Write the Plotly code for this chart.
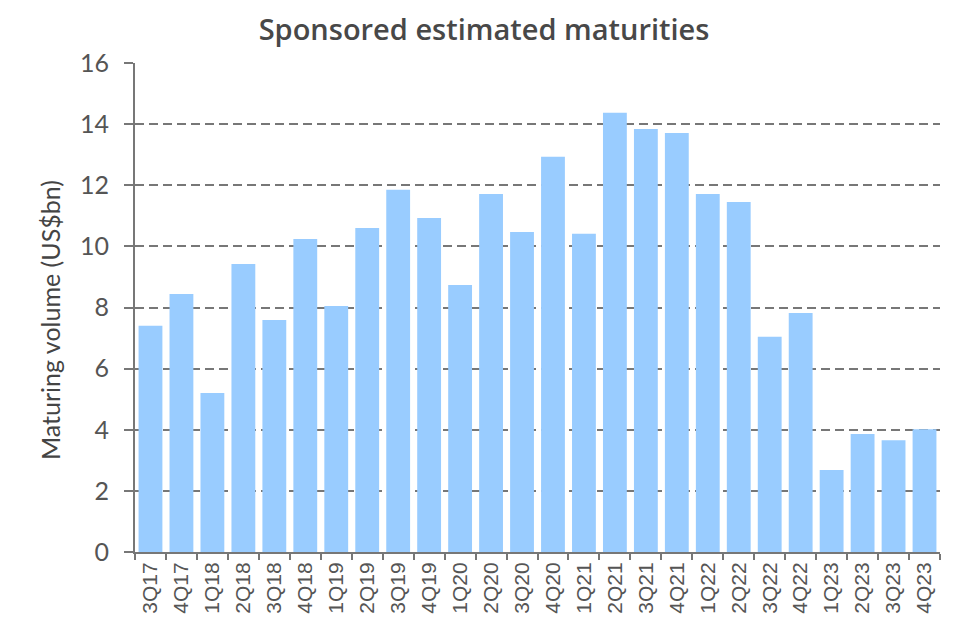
import plotly.graph_objects as go

quarters = ['3Q17', '4Q17', '1Q18', '2Q18', '3Q18', '4Q18', '1Q19', '2Q19', '3Q19',
            '4Q19', '1Q20', '2Q20', '3Q20', '4Q20', '1Q21', '2Q21', '3Q21', '4Q21',
            '1Q22', '2Q22', '3Q22', '4Q22', '1Q23', '2Q23', '3Q23', '4Q23']
maturing_volume = [7.40, 8.44, 5.20, 9.42, 7.59, 10.24, 8.05, 10.60, 11.85,
                   10.93, 8.74, 11.71, 10.47, 12.93, 10.41, 14.37, 13.84, 13.71,
                   11.71, 11.45, 7.04, 7.82, 2.68, 3.86, 3.66, 4.02]
y_ticks = [0, 2, 4, 6, 8, 10, 12, 14, 16]

grey = '#777777'

fig = go.Figure(data=[go.Bar(x=quarters, y=maturing_volume,
                             marker=dict(color='#99CCFF', line=dict(width=0)))])

# page body adds 8px offset, so margins are shifted to compensate
fig.update_layout(
    width=965, height=623,
    margin=dict(l=127, r=33, t=55, b=79, autoexpand=False),
    paper_bgcolor='white', plot_bgcolor='white',
    bargap=0.23,
    showlegend=False,
    font=dict(family='Lato', color='#555555'),
    title=dict(text='Sponsored estimated maturities', x=0.4933, xanchor='center',
               y=0.965, yanchor='middle',
               font=dict(family='Open Sans', size=29, weight=600, color='#484848')),
)

# y axis title as annotation so it sits where the reference has it
fig.add_annotation(
    text='Maturing volume (US$bn)', textangle=-90,
    xref='paper', yref='paper', x=-0.1056, y=0.4744,
    xanchor='center', yanchor='middle', showarrow=False,
    font=dict(family='Lato', size=25, color='#444444'),
)

fig.update_xaxes(
    type='category', tickangle=-90, automargin=False,
    tickfont=dict(family='Liberation Sans', size=21, color='#555555'),
    showline=True, linecolor=grey, linewidth=2,
    ticks='outside', tickson='boundaries', ticklen=6, tickcolor=grey, tickwidth=2,
    showgrid=False,
)

fig.update_yaxes(
    range=[0, 16], tickvals=y_ticks, automargin=False,
    tickfont=dict(family='Lato', size=25, color='#555555'),
    ticklabelstandoff=10,
    showline=True, linecolor=grey, linewidth=2,
    ticks='outside', ticklen=9, tickcolor=grey, tickwidth=2,
    showgrid=True, gridcolor=grey, gridwidth=2, griddash='9px,5px',
    zeroline=False,
)

fig.write_html('out.html')
